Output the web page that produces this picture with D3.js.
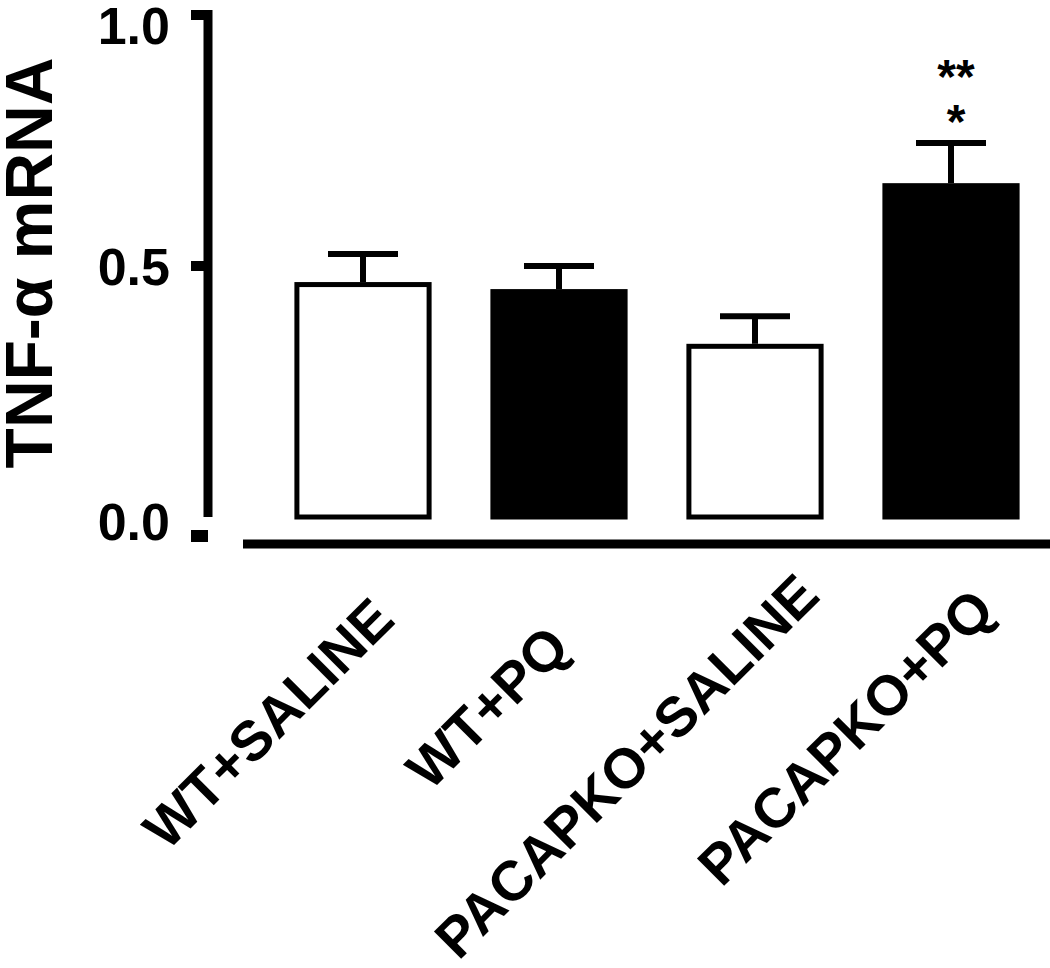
<!DOCTYPE html>
<html>
<head>
<meta charset="utf-8">
<script src="https://cdn.jsdelivr.net/npm/d3@7"></script>
<style>
  body { margin: 0; background: #fff; }
  text { font-family: "Liberation Sans", Arial, sans-serif; font-weight: bold; fill: #000; }
</style>
</head>
<body>
<div id="chart"></div>
<script>
(function () {
	// data
	var groups = ['WT+SALINE', 'WT+PQ', 'PACAPKO+SALINE', 'PACAPKO+PQ'];
	var means = [0.468, 0.454, 0.345, 0.665];
	var sems = [0.056, 0.046, 0.055, 0.08];
	var fills = ['#fff', '#000', '#fff', '#000'];
	var yTicks = [0.0, 0.5, 1.0];
	var tickLabels = ['0.0', '0.5', '1.0'];
	var sigMarks = ['', '', '', ['**', '*']];

	// layout
	var width = 1050;
	var height = 968;
	var axisX = 208;
	var barStroke = 5;
	var capHalf = 35;
	// where each rotated label ends, relative to its bar centre
	var labelNudge = [[34, 622], [13, 650], [67, 598], [46, 613]];

	var svg = d3.select('#chart').append('svg')
		.attr('width', width).attr('height', height);

	var x = d3.scaleBand().domain(groups).range([265, 1049])
		.paddingInner(0.3).paddingOuter(0.15);
	var y = d3.scaleLinear().domain([0, 1]).range([517, 15]);

	// y axis: main line with 0.5 / 1.0 ticks, detached 0.0 stub
	svg.append('line')
		.attr('x1', axisX).attr('x2', axisX)
		.attr('y1', y(1) - 5).attr('y2', y(0))
		.attr('stroke', '#000').attr('stroke-width', 9);

	yTicks.forEach(function (t, i) {
		var ty = t === 0 ? y(0) + 19 : y(t);
		svg.append('line')
			.attr('x1', 191).attr('x2', axisX)
			.attr('y1', ty).attr('y2', ty)
			.attr('stroke', '#000').attr('stroke-width', t === 0 ? 12 : 10);
		svg.append('text')
			.attr('x', 170)
			.attr('y', t === 0 ? y(0) + 23 : (t === 1 ? 44 : y(t) + 19))
			.attr('text-anchor', 'end')
			.attr('font-size', 52)
			.text(tickLabels[i]);
	});

	// x axis line
	svg.append('line')
		.attr('x1', 243).attr('x2', width)
		.attr('y1', 544).attr('y2', 544)
		.attr('stroke', '#000').attr('stroke-width', 9);

	// bars
	svg.selectAll('.bar')
		.data(groups).enter().append('rect')
		.classed('bar', true)
		.attr('x', d => x(d) + barStroke / 2)
		.attr('width', x.bandwidth() - barStroke)
		.attr('y', (d, i) => y(means[i]) + barStroke / 2)
		.attr('height', (d, i) => y(0) - y(means[i]) - barStroke / 2)
		.attr('fill', (d, i) => fills[i])
		.attr('stroke', '#000')
		.attr('stroke-width', barStroke);

	// error bars (upper only)
	var errs = svg.selectAll('.err')
		.data(groups).enter().append('g')
		.classed('err', true);
	errs.append('line')
		.attr('x1', d => x(d) + x.bandwidth() / 2)
		.attr('x2', d => x(d) + x.bandwidth() / 2)
		.attr('y1', (d, i) => y(means[i]))
		.attr('y2', (d, i) => y(means[i] + sems[i]))
		.attr('stroke', '#000').attr('stroke-width', 6);
	errs.append('line')
		.attr('x1', d => x(d) + x.bandwidth() / 2 - capHalf)
		.attr('x2', d => x(d) + x.bandwidth() / 2 + capHalf)
		.attr('y1', (d, i) => y(means[i] + sems[i]))
		.attr('y2', (d, i) => y(means[i] + sems[i]))
		.attr('stroke', '#000').attr('stroke-width', 6);

	// significance stars, one text with a line per mark
	groups.forEach(function (g, i) {
		if (!sigMarks[i]) return;
		var cx = x(g) + x.bandwidth() / 2 + 5;
		var top = y(means[i] + sems[i]);
		var t = svg.append('text')
			.attr('text-anchor', 'middle')
			.attr('font-size', 48)
			.attr('y', top - 50);
		sigMarks[i].forEach(function (s, k) {
			t.append('tspan')
				.attr('x', cx)
				.attr('dy', k === 0 ? 0 : 45)
				.text(s);
		});
	});

	// rotated category labels
	svg.selectAll('.xlab')
		.data(groups).enter().append('text')
		.classed('xlab', true)
		.attr('text-anchor', 'end')
		.attr('font-size', 56)
		.attr('transform', (d, i) => 'translate(' + [x(d) + x.bandwidth() / 2 + labelNudge[i][0], labelNudge[i][1]] + ')rotate(-45)')
		.text(d => d);

	// y title
	svg.append('text')
		.attr('text-anchor', 'middle')
		.attr('font-size', 66)
		.attr('transform', 'translate(52,263)rotate(-90)')
		.text('TNF-α mRNA');
})();
</script>
</body>
</html>
